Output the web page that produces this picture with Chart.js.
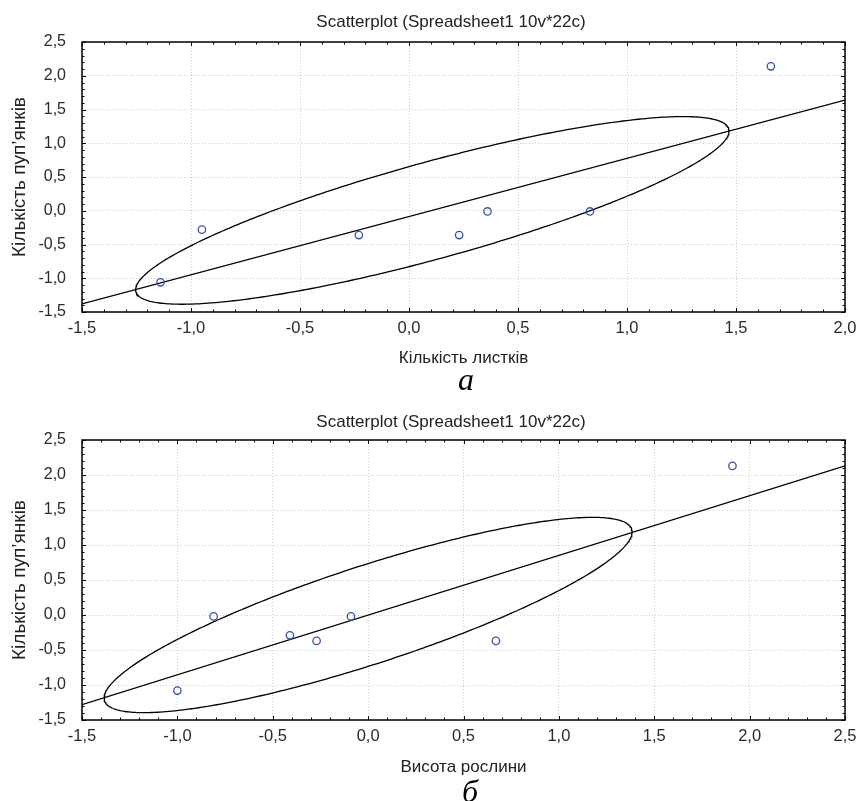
<!DOCTYPE html>
<html><head><meta charset="utf-8">
<script src="https://cdn.jsdelivr.net/npm/chart.js@4.4.1/dist/chart.umd.min.js"></script>
<style>
html,body{margin:0;padding:0;background:#fff;width:859px;height:801px;overflow:hidden;}
#wrap{position:relative;width:859px;height:801px;}
canvas{position:absolute;left:0;}
.lbl{position:absolute;width:60px;text-align:center;font-family:"Liberation Serif","DejaVu Serif",serif;font-style:italic;font-size:32px;line-height:32px;color:#000;}
</style></head><body>
<div id="wrap">
<canvas id="c1" width="859" height="400" style="top:0"></canvas>
<canvas id="c2" width="859" height="401" style="top:400px"></canvas>
<div class="lbl" style="left:436px;top:363px">а</div>
<div class="lbl" style="left:440px;top:775px">б</div>
</div>
<script>
// ---- texts ----
const chartTitle = 'Scatterplot (Spreadsheet1 10v*22c)';
const yAxisTitle = 'Кількість пуп\u2019янків';
const xAxisTitleA = 'Кількість листків';
const xAxisTitleB = 'Висота рослини';

// ---- tick values ----
const xTicksA = [-1.5, -1.0, -0.5, 0.0, 0.5, 1.0, 1.5, 2.0];
const xTicksB = [-1.5, -1.0, -0.5, 0.0, 0.5, 1.0, 1.5, 2.0, 2.5];
const yTicks  = [-1.5, -1.0, -0.5, 0.0, 0.5, 1.0, 1.5, 2.0, 2.5];

// ---- chart a: leaves vs buds ----
const leavesX = [-1.14, -0.95, -0.23, 0.23, 0.36, 0.83, 1.66];
const budsYa  = [-1.06, -0.28, -0.36, -0.36, -0.01, -0.01, 2.14];
const fitAX = [-1.5, 2.0];
const fitAY = [-1.38, 1.64];
// ellipse: centre x, centre y, half-width, half-height, correlation
const ellipseA = [0.107, 0.005, 1.361, 1.39, 0.845];

// ---- chart b: plant height vs buds ----
const heightX = [-1.00, -0.81, -0.41, -0.27, -0.09, 0.67, 1.91];
const budsYb  = [-1.08, -0.02, -0.29, -0.37, -0.02, -0.37, 2.13];
const fitBX = [-1.5, 2.5];
const fitBY = [-1.28, 2.13];
const ellipseB = [0.0, 0.0, 1.384, 1.395, 0.85];

const fmt = v => (Math.round(v * 10) / 10).toFixed(1).replace('.', ',');
const pairs = (xs, ys) => xs.map((x, i) => ({x, y: ys[i]}));
function ellipsePoints(p) {
  const [cx, cy, hx, hy, r] = p;
  const s = Math.sqrt(1 - r * r);
  const out = [];
  for (let i = 0; i <= 360; i++) {
    const t = i * Math.PI / 180;
    out.push({x: cx + hx * Math.cos(t), y: cy + hy * (r * Math.cos(t) + s * Math.sin(t))});
  }
  return out;
}

const tickFont = '"Liberation Sans", Arial, sans-serif';
const textFont = '"Liberation Sans", Arial, sans-serif';

const framePlugin = {
  id: 'frame',
  afterDraw(chart, args, opts) {
    const {ctx, chartArea: a, scales: {x, y}} = chart;
    ctx.save();
    ctx.strokeStyle = '#000';
    ctx.lineWidth = 1;
    ctx.beginPath();
    for (let i = Math.round(x.min * 10); i <= Math.round(x.max * 10); i++) {
      const px = Math.round(x.getPixelForValue(i / 10)) + 0.5;
      const len = (i % 5 === 0) ? 4 : 2.5;
      ctx.moveTo(px, a.bottom); ctx.lineTo(px, a.bottom - len);
      ctx.moveTo(px, a.top); ctx.lineTo(px, a.top + len);
    }
    for (let i = Math.round(y.min * 10); i <= Math.round(y.max * 10); i++) {
      const py = Math.round(y.getPixelForValue(i / 10)) + 0.5;
      const len = (i % 5 === 0) ? 4 : 2.5;
      ctx.moveTo(a.left, py); ctx.lineTo(a.left + len, py);
      ctx.moveTo(a.right, py); ctx.lineTo(a.right - len, py);
    }
    ctx.stroke();
    ctx.lineWidth = 1.5;
    ctx.strokeRect(a.left, a.top, a.right - a.left, a.bottom - a.top);
    ctx.font = '17px ' + textFont;
    ctx.fillStyle = '#222';
    ctx.textAlign = 'center';
    ctx.textBaseline = 'alphabetic';
    ctx.fillText(opts.text, opts.cx, opts.baseline);
    ctx.restore();
  }
};

function makeChart(id, cfg) {
  new Chart(document.getElementById(id), {
    type: 'scatter',
    data: {
      datasets: [
        {data: pairs(cfg.xs, cfg.ys), order: 0, showLine: false,
         pointRadius: 3.7, pointHoverRadius: 3.7, pointBorderWidth: 1.3,
         pointBorderColor: '#3850b0', pointBackgroundColor: 'rgba(0,0,0,0)'},
        {data: pairs(cfg.fitX, cfg.fitY), order: 1, showLine: true, pointRadius: 0,
         borderColor: '#000', borderWidth: 1.3, tension: 0, fill: false},
        {data: ellipsePoints(cfg.ell), order: 1, showLine: true, pointRadius: 0,
         borderColor: '#000', borderWidth: 1.3, tension: 0, fill: false}
      ]
    },
    options: {
      responsive: false, animation: false, devicePixelRatio: 1, events: [],
      layout: {padding: {left: 0, right: 14, top: cfg.top, bottom: 0}},
      plugins: {legend: {display: false}, tooltip: {enabled: false}, title: {display: false},
        frame: {text: chartTitle, cx: 451, baseline: 27}},
      scales: {
        x: {type: 'linear', min: cfg.xTicks[0], max: cfg.xTicks[cfg.xTicks.length - 1],
          afterBuildTicks: s => { s.ticks = cfg.xTicks.map(v => ({value: v})); },
          afterFit: s => { s.height = cfg.xH; s.paddingLeft = 0; s.paddingRight = 0; },
          ticks: {padding: 7, color: '#2a2a2a', autoSkip: false, maxRotation: 0,
            font: {family: tickFont, size: 16.5}, callback: v => fmt(v)},
          grid: {color: '#cdcdcd', lineWidth: 1, drawTicks: false},
          border: {display: false, dash: [1, 2]},
          title: {display: true, text: cfg.xTitle, color: '#222',
            font: {family: textFont, size: 17}, padding: {top: 0, bottom: cfg.xTitlePad}}
        },
        y: {type: 'linear', min: yTicks[0], max: yTicks[yTicks.length - 1],
          afterBuildTicks: s => { s.ticks = yTicks.map(v => ({value: v})); },
          afterFit: s => { s.width = 82; s.paddingTop = 0; s.paddingBottom = 0; },
          ticks: {padding: 16, color: '#2a2a2a', autoSkip: false,
            font: {family: tickFont, size: 16}, callback: v => fmt(v)},
          grid: {color: '#cdcdcd', lineWidth: 1, drawTicks: false},
          border: {display: false, dash: [1, 2]},
          title: {display: true, text: yAxisTitle, color: '#222',
            font: {family: textFont, size: 19}, padding: {top: 8, bottom: 0}}
        }
      }
    },
    plugins: [framePlugin]
  });
}

makeChart('c1', {xs: leavesX, ys: budsYa, fitX: fitAX, fitY: fitAY, ell: ellipseA,
  xTicks: xTicksA, xTitle: xAxisTitleA, top: 42, xH: 88, xTitlePad: 31});
makeChart('c2', {xs: heightX, ys: budsYb, fitX: fitBX, fitY: fitBY, ell: ellipseB,
  xTicks: xTicksB, xTitle: xAxisTitleB, top: 40, xH: 81, xTitlePad: 23});
</script>
</body></html>
